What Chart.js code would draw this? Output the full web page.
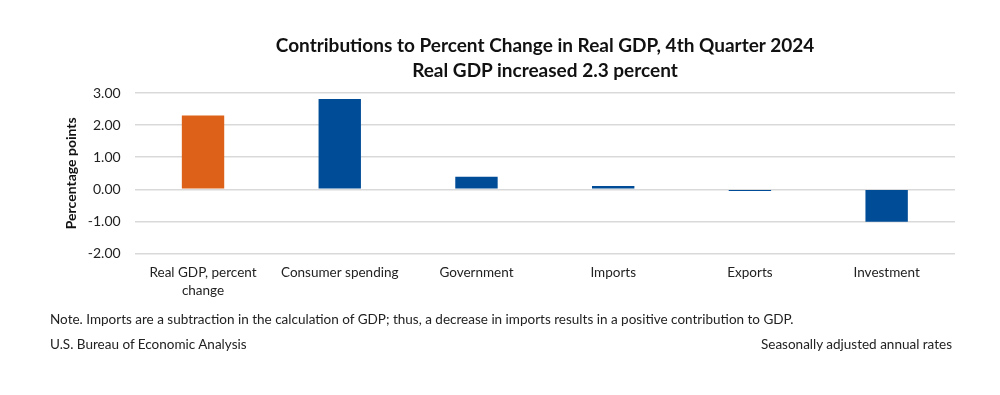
<!DOCTYPE html>
<html>
<head>
<meta charset="utf-8">
<script src="https://cdn.jsdelivr.net/npm/chart.js@4.4.1/dist/chart.umd.min.js"></script>
<style>
  html, body { margin: 0; padding: 0; background: #fff; }
  #wrap { position: relative; width: 1000px; height: 395px; font-family: Lato, "Open Sans", sans-serif; color: #222; }
  #chartBox { position: absolute; left: 0; top: 0; width: 1000px; height: 395px; }
  .title { position: absolute; left: 195px; width: 700px; text-align: center; font-weight: bold; font-size: 19px; color: #111; }
  .txt { position: absolute; font-size: 13.5px; color: #222; }
</style>
</head>
<body>
<div id="wrap">
  <div id="chartBox"><canvas id="gdpChart"></canvas></div>
  <div class="title" style="top:33px">Contributions to Percent Change in Real GDP, 4th Quarter 2024</div>
  <div class="title" style="top:58px">Real GDP increased 2.3 percent</div>
  <div class="txt" style="left:50px; top:311px">Note. Imports are a subtraction in the calculation of GDP; thus, a decrease in imports results in a positive contribution to GDP.</div>
  <div class="txt" style="left:50px; top:336px">U.S. Bureau of Economic Analysis</div>
  <div class="txt" style="right:48px; top:336px">Seasonally adjusted annual rates</div>
</div>
<script>
// --- data ---
const categories = [['Real GDP, percent', 'change'], 'Consumer spending', 'Government', 'Imports', 'Exports', 'Investment'];
const contributions = [2.30, 2.81, 0.39, 0.10, -0.05, -1.01];
const barColors = ['#de6119', '#004c97', '#004c97', '#004c97', '#004c97', '#004c97'];
const yMin = -2, yMax = 3, yStep = 1;

const canvas = document.getElementById('gdpChart');

new Chart(canvas, {
    type: 'bar',
    data: {
        labels: categories,
        datasets: [{
            data: contributions,
            backgroundColor: barColors,
            barPercentage: 0.31,
            categoryPercentage: 1.0
        }]
    },
    options: {
        responsive: true,
        maintainAspectRatio: false,
        animation: false,
        layout: { padding: { top: 93, left: 57, right: 45, bottom: 93 } },
        plugins: {
            legend: { display: false },
            tooltip: { enabled: false }
        },
        scales: {
            x: {
                grid: { display: false },
                border: { display: false },
                ticks: {
                    color: '#222',
                    font: { family: 'Lato', size: 13.5, lineHeight: 1.35 },
                    maxRotation: 0,
                    padding: 2
                }
            },
            y: {
                min: yMin,
                max: yMax,
                ticks: {
                    stepSize: yStep,
                    color: '#222',
                    font: { family: 'Lato', size: 14 },
                    padding: 14,
                    callback: v => Number(v).toFixed(2)
                },
                grid: { color: '#d9d9d9', lineWidth: 1.5, drawTicks: false },
                border: { display: false },
                title: {
                    display: true,
                    text: 'Percentage points',
                    color: '#111',
                    padding: { top: 6, bottom: -6 },
                    font: { family: 'Lato', size: 14, weight: 'bold' }
                }
            }
        }
    }
});
</script>
</body>
</html>
